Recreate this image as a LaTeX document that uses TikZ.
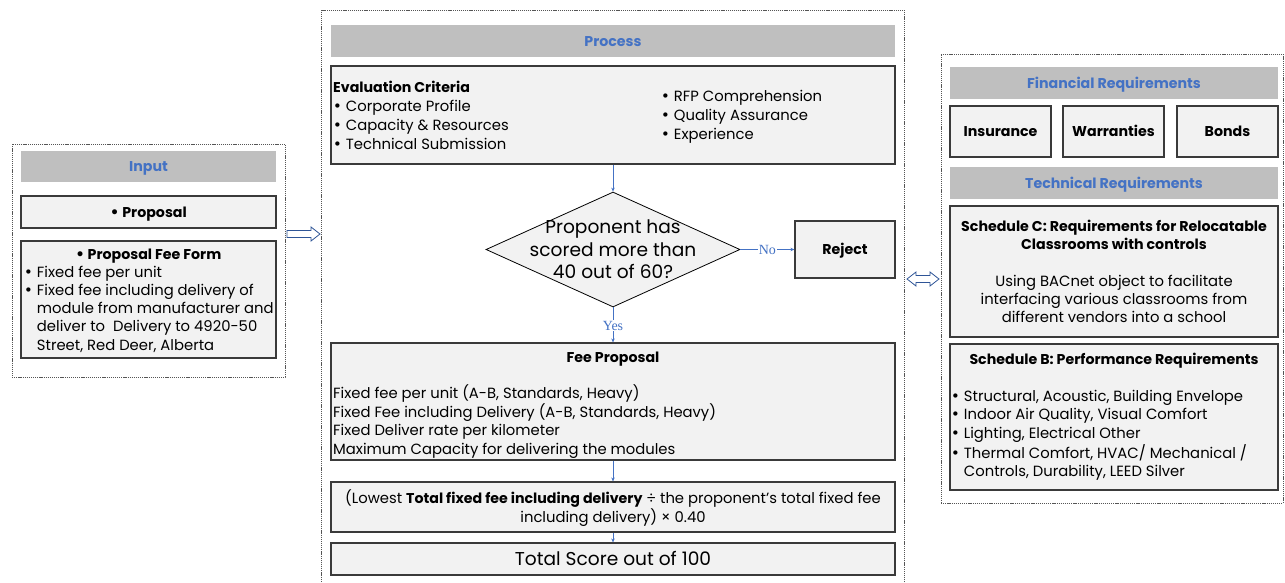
\documentclass[tikz,border=0pt]{standalone}
\usepackage{fontspec}
\setmainfont{Poppins}
\newfontfamily\labelfont{Liberation Serif}
\newfontfamily\dotfont{DejaVu Sans}
\usetikzlibrary{arrows.meta,shapes.geometric}

\definecolor{hdrgray}{HTML}{BFBFBF}
\definecolor{boxfill}{HTML}{F2F2F2}
\definecolor{hdrblue}{HTML}{4472C4}
\definecolor{boxline}{HTML}{3A3A3A}
\definecolor{outerline}{HTML}{555555}
\definecolor{blockarrow}{HTML}{2F5597}

% font sizes (1pt = 1 output pixel)
\newcommand\bodysize{\fontsize{14.8}{19}\selectfont}
\newcommand\boldsize{\fontsize{14.2}{19}\selectfont\bfseries}
\newcommand\bigsize{\fontsize{18.6}{22.5}\selectfont}
\newcommand\txtblock[2]{\begin{tabular}[t]{@{}#1@{}}#2\end{tabular}}
\newcommand\bl{{\dotfont •}}

\tikzset{
  panel/.style={draw=outerline, line width=0.8pt, dash pattern=on 1.2pt off 0.9pt, inner sep=0pt, outer sep=0pt},
  header/.style={fill=hdrgray, inner sep=0pt, text=hdrblue, font=\boldsize,
                 text height=10pt, text depth=0pt},
  card/.style={draw=boxline, fill=boxfill, line width=1.2pt, inner sep=0pt,
               font=\bodysize, text height=10pt, text depth=0pt},
  boldcard/.style={card, font=\boldsize},
  txt/.style={inner sep=0pt, font=\bodysize},
  flow/.style={draw=hdrblue, line width=0.8pt, -{Stealth[length=4pt,width=3.5pt]}},
  flowlabel/.style={fill=white, inner sep=0.6pt, text=hdrblue, font=\labelfont\fontsize{14}{14}\selectfont},
  blockarrow/.style={draw=blockarrow, fill=white, line width=0.8pt, line join=miter},
}

\begin{document}
\begin{tikzpicture}[x=1pt, y=-1pt]
\useasboundingbox (0,0) rectangle (1285,582);
\clip (0,0) rectangle (1285,582);

% ---------------- Input column ----------------
\node[panel, minimum width=273pt, minimum height=233pt] (inpanel) at (148.5,260.5) {};
\node[header, minimum width=255pt, minimum height=31pt] (inhdr) at (148.5,166.5) {Input};
\node[boldcard, minimum width=255pt, minimum height=32pt] (proposal) at (148.5,212) {\bl\ Proposal};
\node[card, minimum width=255pt, minimum height=117pt] (feeform) at (148.5,299.5) {};
\node[txt, font=\boldsize, anchor=base] (feeformtitle) at (148.5,259) {\bl\ Proposal Fee Form};
\node[txt, font=\fontsize{14.8}{18.3}\selectfont, anchor=base west] (feeformlist) at (24,277)
  {\txtblock{l@{\hspace{4pt}}l}{%
   \bl & Fixed fee per unit\\
   \bl & Fixed fee including delivery of\\
       & module from manufacturer and\\
       & deliver to \ Delivery to 4920-50\\
       & Street, Red Deer, Alberta}};

% ---------------- Process column ----------------
\node[panel, minimum width=583pt, minimum height=590pt] (procpanel) at (612.5,305) {};
\node[header, minimum width=564pt, minimum height=32pt] (prochdr) at (613,41) {Process};
\node[card, minimum width=564pt, minimum height=98pt] (eval) at (613,115) {};
\node[txt, anchor=base west] (evalleft) at (333,92)
  {\txtblock{l@{\hspace{4pt}}l}{%
   \multicolumn{2}{@{}l}{\boldsize Evaluation Criteria}\\
   \bl & Corporate Profile\\
   \bl & Capacity \& Resources\\
   \bl & Technical Submission}};
\node[txt, anchor=base west] (evalright) at (661,101)
  {\txtblock{l@{\hspace{4pt}}l}{%
   \bl & RFP Comprehension\\
   \bl & Quality Assurance\\
   \bl & Experience}};

\node[diamond, draw=black, fill=boxfill, line width=0.8pt, inner sep=0pt,
      minimum width=254pt, minimum height=115pt] (check) at (613,249.5) {};
\node[txt, font=\bigsize, anchor=base] (checktext) at (613,233.5)
  {\txtblock{c}{Proponent has\\ scored more than\\ 40 out of 60?}};

\node[boldcard, minimum width=100pt, minimum height=57pt] (reject) at (845,249.5) {Reject};

\node[card, minimum width=564pt, minimum height=117pt] (fee) at (613,401.5) {};
\node[txt, font=\boldsize, anchor=base] (feetitle) at (613,362) {Fee Proposal};
\node[txt, font=\fontsize{14.8}{18.5}\selectfont, anchor=base west] (feelist) at (333,398)
  {\txtblock{l}{%
   Fixed fee per unit (A-B, Standards, Heavy)\\
   Fixed Fee including Delivery (A-B, Standards, Heavy)\\
   Fixed Deliver rate per kilometer\\
   Maximum Capacity for delivering the modules}};

\node[card, minimum width=564pt, minimum height=50pt] (formula) at (613,507) {};
\node[txt, font=\fontsize{14.8}{18}\selectfont, anchor=base] (formulatext) at (613,503)
  {\txtblock{c}{(Lowest {\boldsize Total fixed fee including delivery} ÷ the proponent’s total fixed fee\\
   including delivery) × 0.40}};

\node[card, font=\bigsize, text height=13pt, minimum width=564pt, minimum height=32pt] (total) at (613,559) {Total Score out of 100};

% flow connectors
\draw[flow] (eval.south) -- (check.north);
\draw[flow] (check.east) -- node[flowlabel] {No} (reject.west);
\draw[flow] (check.south) -- node[flowlabel, pos=0.52] {Yes} (fee.north);
\draw[flow] (fee.south) -- (formula.north);
\draw[flow] (formula.south) -- (total.north);

% ---------------- Requirements column ----------------
\node[panel, minimum width=342pt, minimum height=449pt] (reqpanel) at (1112,278.5) {};
\node[header, minimum width=328pt, minimum height=32pt] (finhdr) at (1114,83) {Financial Requirements};
\node[boldcard, minimum width=101pt, minimum height=51pt] (insurance) at (1000.5,131.5) {Insurance};
\node[boldcard, minimum width=101pt, minimum height=51pt] (warranties) at (1113.5,131.5) {Warranties};
\node[boldcard, minimum width=101pt, minimum height=51pt] (bonds) at (1227.5,131.5) {Bonds};
\node[header, minimum width=328pt, minimum height=32pt] (techhdr) at (1114,183) {Technical Requirements};

\node[card, minimum width=328pt, minimum height=131pt] (schedc) at (1114,271.5) {};
\node[txt, font=\fontsize{14.2}{18}\selectfont\bfseries, anchor=base] (schedctitle) at (1114,231)
  {\txtblock{c}{Schedule C: Requirements for Relocatable\\ Classrooms with controls}};
\node[txt, font=\fontsize{14.8}{18}\selectfont, anchor=base] (schedcbody) at (1114,286)
  {\txtblock{c}{Using BACnet object to facilitate\\ interfacing various classrooms from\\ different vendors into a school}};

\node[card, minimum width=328pt, minimum height=146pt] (schedb) at (1114,417) {};
\node[txt, font=\boldsize, anchor=base] (schedbtitle) at (1114,364) {Schedule B: Performance Requirements};
\node[txt, font=\fontsize{14.8}{18.8}\selectfont, anchor=base west] (schedblist) at (951,401)
  {\txtblock{l@{\hspace{4pt}}l}{%
   \bl & Structural, Acoustic, Building Envelope\\
   \bl & Indoor Air Quality, Visual Comfort\\
   \bl & Lighting, Electrical Other\\
   \bl & Thermal Comfort, HVAC/ Mechanical /\\
       & Controls, Durability, LEED Silver}};

% ---------------- block arrows between columns ----------------
\coordinate (fwdtail) at (287,234);
\coordinate (fwdtip) at (320,234);
\draw[blockarrow] (fwdtail) ++(0,-3.5) -- ++(24,0) -- ++(0,-3.5) -- (fwdtip)
  -- ++(-9,7) -- ++(0,-3.5) -- ++(-24,0) -- cycle;

\coordinate (bileft) at (907,279);
\coordinate (biright) at (939,279);
\draw[blockarrow] (bileft) -- ++(9,-7) -- ++(0,3.5) -- ++(14,0) -- ++(0,-3.5)
  -- (biright) -- ++(-9,7) -- ++(0,-3.5) -- ++(-14,0) -- ++(0,3.5) -- cycle;
\end{tikzpicture}
\end{document}
